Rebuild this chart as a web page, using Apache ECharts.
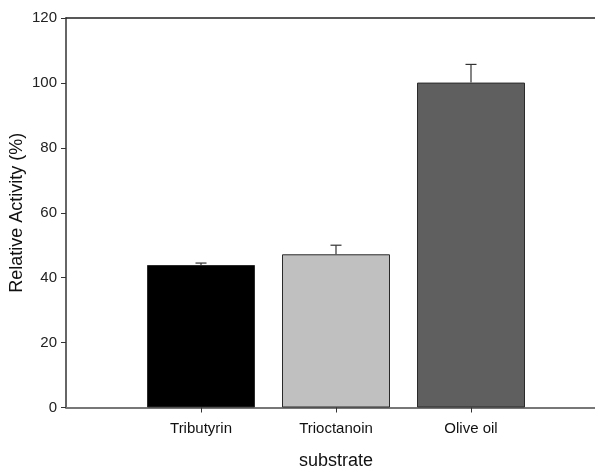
<!DOCTYPE html>
<html>
<head>
<meta charset="utf-8">
<script src="https://cdn.jsdelivr.net/npm/echarts@6/dist/echarts.min.js"></script>
<style>html,body{margin:0;padding:0;background:#fff;}#c{width:595px;height:470px;}</style>
</head>
<body>
<div id="c"></div>
<script>
const categories = ['', 'Tributyrin', 'Trioctanoin', 'Olive oil', ''];
const values = [null, 43.9, 47.2, 100.1, null];
const errors = [null, 0.6, 2.8, 5.6, null];
const barColors = ['#000000', '#000000', '#c0c0c0', '#5f5f5f', '#000000'];
const yTicks = [0, 20, 40, 60, 80, 100, 120];

const chart = echarts.init(document.getElementById('c'), null, {renderer: 'canvas'});
const font = 'Liberation Sans, Arial, sans-serif';
chart.setOption({
  animation: false,
  backgroundColor: '#fff',
  grid: {left: 66, top: 18, width: 540, height: 389.5, containLabel: false, outerBoundsMode: 'none'},
  xAxis: [{
    type: 'category',
    data: categories,
    boundaryGap: false,
    name: 'substrate',
    nameLocation: 'middle',
    nameGap: 45,
    nameMoveOverlap: false,
    nameTextStyle: {fontFamily: font, fontSize: 18, color: '#111'},
    axisLine: {lineStyle: {color: '#777', width: 2}},
    axisTick: {inside: false, length: 5, lineStyle: {color: '#333'}, interval: (i, v) => v !== ''},
    axisLabel: {fontFamily: font, fontSize: 15, color: '#111', margin: 14, interval: 0},
    splitLine: {show: false}
  }, {
    type: 'category',
    data: categories,
    boundaryGap: false,
    position: 'top',
    axisLine: {lineStyle: {color: '#222', width: 1.5}},
    axisTick: {show: false},
    axisLabel: {show: false},
    splitLine: {show: false}
  }],
  yAxis: {
    type: 'value',
    min: yTicks[0],
    max: yTicks[yTicks.length - 1],
    interval: 20,
    name: 'Relative Activity (%)',
    nameLocation: 'middle',
    nameGap: 40,
    nameMoveOverlap: false,
    nameTextStyle: {fontFamily: font, fontSize: 18, color: '#111'},
    axisLine: {show: true, lineStyle: {color: '#333', width: 1.5}},
    axisTick: {show: true, inside: false, length: 5, lineStyle: {color: '#333'}},
    axisLabel: {fontFamily: font, fontSize: 15, color: '#222', margin: 9},
    splitLine: {show: false}
  },
  series: [{
    type: 'bar',
    data: values.map((v, i) => v === null ? null : {value: v, itemStyle: {color: barColors[i]}}),
    barWidth: 108,
    itemStyle: {borderColor: '#2a2a2a', borderWidth: 1}
  }, {
    type: 'custom',
    data: values.map((v, i) => [i, v, errors[i]]).filter(d => d[1] !== null),
    renderItem: function (params, api) {
      const idx = api.value(0);
      const v = api.value(1);
      const e = api.value(2);
      const p0 = api.coord([idx, v]);
      const p1 = api.coord([idx, v + e]);
      const style = {stroke: '#333', lineWidth: 1.2};
      return {
        type: 'group',
        children: [
          {type: 'line', shape: {x1: p0[0], y1: p0[1], x2: p1[0], y2: p1[1]}, style: style},
          {type: 'line', shape: {x1: p1[0] - 5.5, y1: p1[1], x2: p1[0] + 5.5, y2: p1[1]}, style: style}
        ]
      };
    },
    z: 3
  }]
});
</script>
</body>
</html>
